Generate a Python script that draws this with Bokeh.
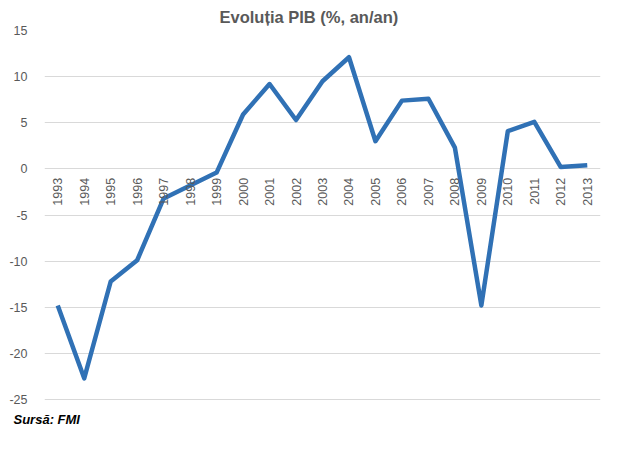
import math
from bokeh.plotting import figure
from bokeh.models import Range1d, FixedTicker, Title
from bokeh.core.properties import value
from bokeh.embed import file_html
from bokeh.resources import INLINE

years = [str(y) for y in range(1993, 2014)]
gdp = [-14.8, -22.7, -12.2, -9.9, -3.2, -1.8, -0.4, 5.9, 9.2, 5.3, 9.5, 12.1,
       3.0, 7.4, 7.6, 2.3, -14.8, 4.1, 5.1, 0.2, 0.4]
y_ticks = [-25, -20, -15, -10, -5, 0, 5, 10, 15]
y_tick_labels = {t: str(t) for t in y_ticks}
axis_base = [0] * len(years)

p = figure(width=605, height=435, x_range=years, y_range=Range1d(-25.1, 15),
           output_backend="svg", toolbar_location=None,
           min_border_left=44, min_border_right=5, min_border_top=29,
           min_border_bottom=34)

p.title.text = "Evoluția PIB (%, an/an)"
p.title.align = "left"
p.title.offset = 175
p.title.text_font = "Liberation Sans"
p.title.text_font_size = "16.5px"
p.title.text_font_style = "bold"
p.title.text_color = "#595959"

p.line(years, gdp, line_color="#3071b5", line_width=4.5, line_join="round")

p.text(x=years, y=axis_base, text=years, angle=math.pi / 2,
       text_align="right", text_baseline="middle", y_offset=9,
       text_font=value("Liberation Sans"), text_font_size=value("12.5px"),
       text_color="#595959")

p.outline_line_color = None
p.background_fill_color = "white"
p.border_fill_color = "white"

p.xaxis.visible = False
p.xgrid.grid_line_color = None
p.ygrid.grid_line_color = "#d9d9d9"
p.ygrid.grid_line_width = 1
p.yaxis.ticker = FixedTicker(ticks=y_ticks)
p.yaxis.major_label_overrides = y_tick_labels

for ax in p.yaxis:
    ax.axis_line_color = None
    ax.major_tick_line_color = None
    ax.minor_tick_line_color = None
    ax.major_label_text_font = "Liberation Sans"
    ax.major_label_text_font_size = "12.5px"
    ax.major_label_text_color = "#595959"
    ax.major_label_standoff = 11

src = Title(text="Sursă: FMI", align="left", text_font="Liberation Sans",
            text_font_size="13px", text_font_style="bold italic",
            text_color="#000000", offset=-31, standoff=18)
p.add_layout(src, "below")

open("out.html", "w").write(file_html(p, INLINE))
